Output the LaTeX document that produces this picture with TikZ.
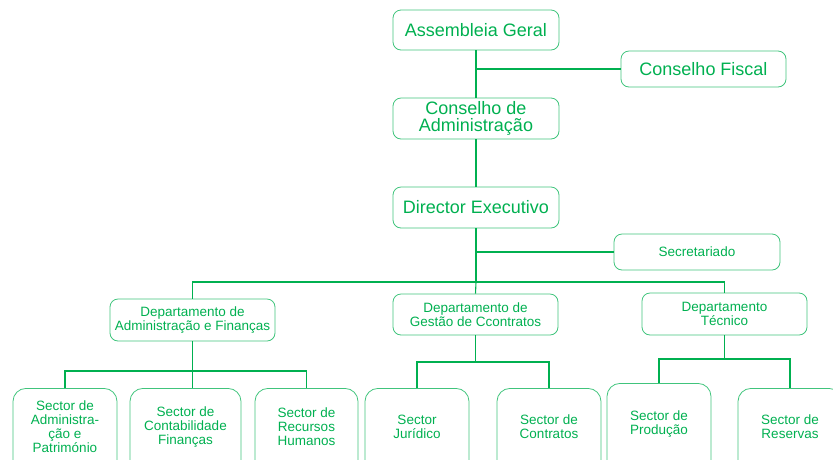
\documentclass[tikz,border=0pt]{standalone}
\usepackage{fontspec}
\setmainfont{Liberation Sans}
\definecolor{orggreen}{RGB}{0,176,80}
\begin{document}
\begin{tikzpicture}[x=1pt, y=-1pt]
    \tikzset{
      bigbox/.style={draw=orggreen!75, text=orggreen, rounded corners=8pt, align=center,
        font=\fontsize{18}{17}\selectfont, minimum width=166pt, minimum height=40pt,
        inner sep=0pt, line width=0.8pt},
      smallbox/.style={bigbox, font=\fontsize{13.5}{14}\selectfont, minimum height=42pt},
      sectorbox/.style={draw=orggreen!75, rounded corners=13pt, anchor=north,
        minimum width=104pt, minimum height=100pt, line width=0.8pt},
      sectortext/.style={text=orggreen, align=center, font=\fontsize{13.5}{14}\selectfont},
      link/.style={draw=orggreen, line width=1.1pt}
    }
    \useasboundingbox (0,0) rectangle (833,459);
    \clip (0,0) rectangle (833,459);
    % top of the chart
    \node[bigbox] (ag) at (476,30) {Assembleia Geral};
    \node[bigbox, minimum width=165pt, minimum height=36pt] (cf) at (703.5,69) {Conselho Fiscal};
    \node[bigbox, minimum height=41pt] (ca) at (476,118.5) {Conselho de\\Administração};
    \node[bigbox, minimum height=41pt] (de) at (476,207.5) {Director Executivo};
    \node[smallbox, minimum height=36pt] (sec) at (697,252) {Secretariado};
    % departments
    \node[smallbox, minimum width=165pt] (daf) at (192.5,320) {Departamento de\\Administração e Finanças};
    \node[smallbox, minimum width=165pt, minimum height=41pt] (dgc) at (475.5,314.5) {Departamento de\\Gestão de Ccontratos};
    \node[smallbox, minimum width=165pt] (dt) at (724.5,314) {Departamento\\Técnico};
    % sectors (cut at the bottom)
    \node[sectorbox] (s1) at (65,388) {};
    \node[sectorbox, minimum width=111pt] (s2) at (185.5,388) {};
    \node[sectorbox, minimum width=103pt] (s3) at (306.5,388) {};
    \node[sectorbox] (s4) at (417,388) {};
    \node[sectorbox] (s5) at (549,388) {};
    \node[sectorbox] (s6) at (659,383) {};
    \node[sectorbox] (s7) at (790,388) {};
    \node[sectortext] (t1) at (65,427) {Sector de\\Administra-\\ção e\\Património};
    \node[sectortext] (t2) at (185.5,427) {Sector de\\Contabilidade\\Finanças};
    \node[sectortext] (t3) at (306.5,427) {Sector de\\Recursos\\Humanos};
    \node[sectortext] (t4) at (417,427) {Sector\\Jurídico};
    \node[sectortext] (t5) at (549,427) {Sector de\\Contratos};
    \node[sectortext] (t6) at (659,424) {Sector de\\Produção};
    \node[sectortext] (t7) at (790,427) {Sector de\\Reservas};
    % connections
    \draw[link] (ag) -- (ca);
    \draw[link] (cf.west) -- (cf.west -| ag.south);
    \draw[link] (ca) -- (de);
    \coordinate (bus) at (476,282);
    \draw[link] (de.south) -- (bus);
    \draw[link] (sec.west) -- (sec.west -| de.south);
    \draw[link] (daf.north) |- (bus) -| (dt.north);
    \draw[link] (bus) -- (dgc.north);
    \coordinate (busaf) at (daf.south |- 0,371);
    \draw[link] (daf.south) -- (daf.south |- s2.north);
    \draw[link] (s1.north) |- (busaf) -| (s3.north);
    \coordinate (busgc) at (dgc.south |- 0,362);
    \draw[link] (dgc.south) -- (busgc);
    \draw[link] (s4.north) |- (busgc) -| (s5.north);
    \coordinate (bust) at (dt.south |- 0,359);
    \draw[link] (dt.south) -- (bust);
    \draw[link] (s6.north) |- (bust) -| (s7.north);
\end{tikzpicture}
\end{document}
